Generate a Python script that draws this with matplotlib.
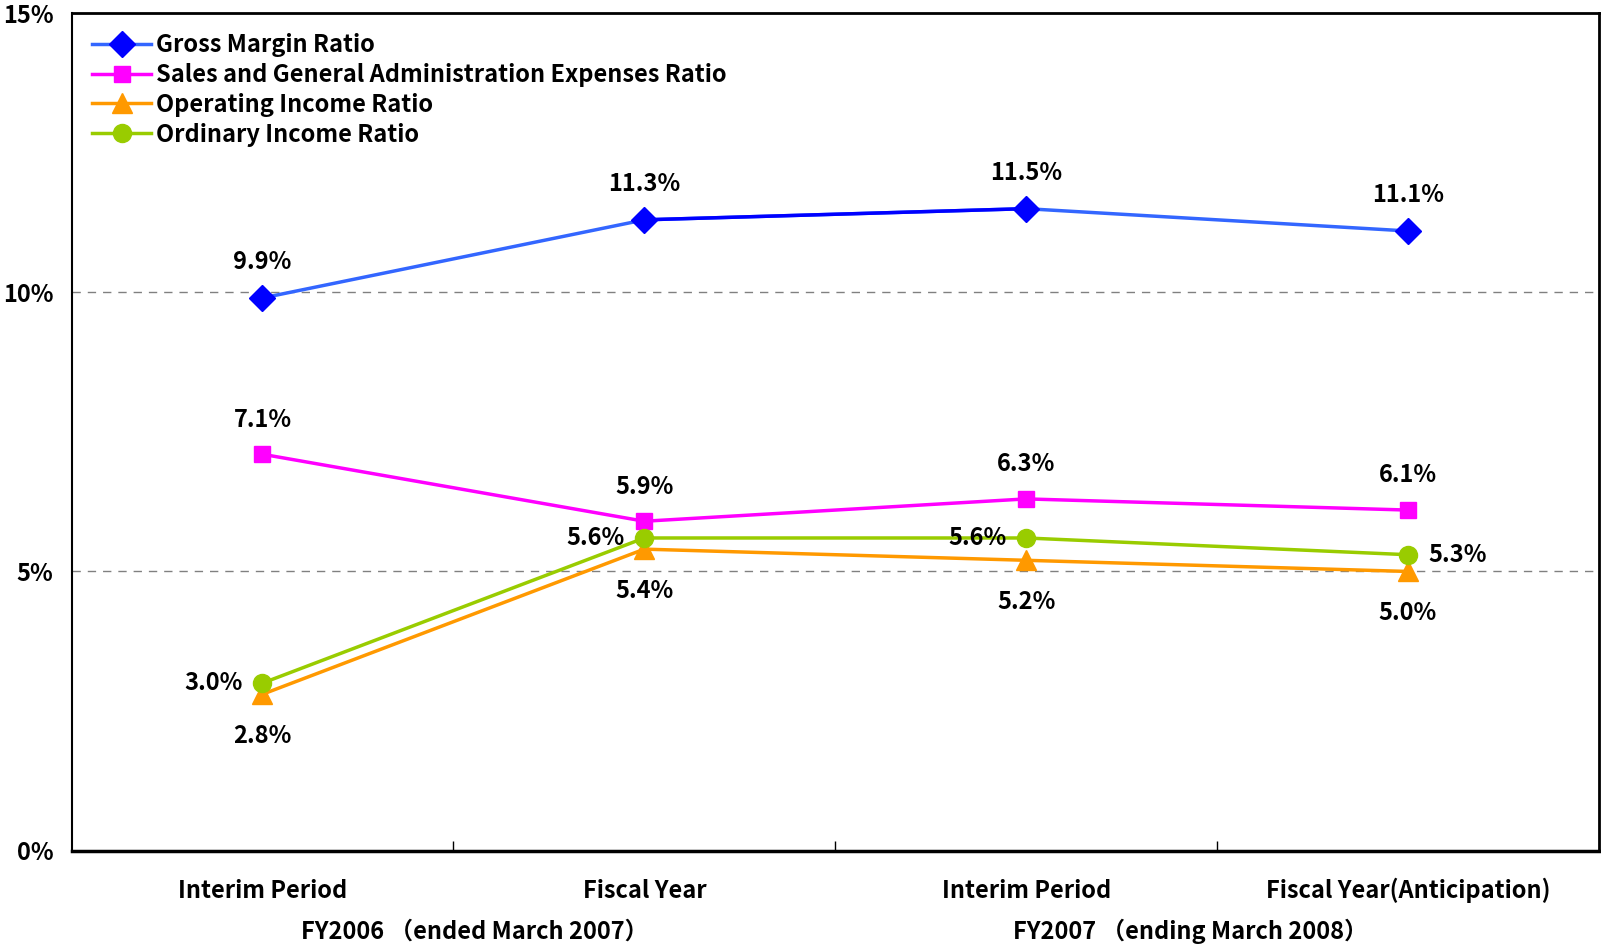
import matplotlib.pyplot as plt
import numpy as np

plt.rcParams['font.family'] = ['Noto Sans CJK JP', 'DejaVu Sans']
plt.rcParams['font.weight'] = 'bold'

categories = ["Interim Period", "Fiscal Year", "Interim Period", "Fiscal Year(Anticipation)"]
groups = ["FY2006 \uff08ended March 2007\uff09", "FY2007 \uff08ending March 2008\uff09"]

gross_margin = [9.9, 11.3, 11.5, 11.1]
sga_ratio = [7.1, 5.9, 6.3, 6.1]
operating_income = [2.8, 5.4, 5.2, 5.0]
ordinary_income = [3.0, 5.6, 5.6, 5.3]

series_names = [
    "Gross Margin Ratio",
    "Sales and General Administration Expenses Ratio",
    "Operating Income Ratio",
    "Ordinary Income Ratio",
]

x = np.arange(len(categories))

fig = plt.figure(figsize=(16.01, 9.44), dpi=100)
ax = fig.add_axes([0.0447, 0.099, 0.954, 0.8869])

fs = 17
lw = 2.5

# gross margin: middle segment is drawn darker
ax.plot(x, gross_margin, color="#3366FF", lw=lw, zorder=3)
ax.plot(x[1:3], gross_margin[1:3], color="#0000FF", lw=lw, zorder=3)
ax.plot(x, gross_margin, ls="none", marker="D", ms=13, color="#0000FF", zorder=4)
h1, = ax.plot([], [], color="#3366FF", lw=lw, marker="D", ms=13, mfc="#0000FF", mec="#0000FF")

h2, = ax.plot(x, sga_ratio, color="#FF00FF", lw=lw, marker="s", ms=12, zorder=3)
h3, = ax.plot(x, operating_income, color="#FF9900", lw=lw, marker="^", ms=14, zorder=3)
h4, = ax.plot(x, ordinary_income, color="#99CC00", lw=lw, marker="o", ms=13, zorder=3)

# data labels
for xi, v in zip(x, gross_margin):
    ax.annotate(f"{v:.1f}%", (xi, v), xytext=(0, 26), textcoords="offset points",
                ha="center", va="center", fontsize=fs)
for xi, v in zip(x, sga_ratio):
    ax.annotate(f"{v:.1f}%", (xi, v), xytext=(0, 25), textcoords="offset points",
                ha="center", va="center", fontsize=fs)
for xi, v in zip(x, operating_income):
    ax.annotate(f"{v:.1f}%", (xi, v), xytext=(0, -30), textcoords="offset points",
                ha="center", va="center", fontsize=fs)
for i, (xi, v) in enumerate(zip(x, ordinary_income)):
    if i == len(x) - 1:
        ax.annotate(f"{v:.1f}%", (xi, v), xytext=(15, 0), textcoords="offset points",
                    ha="left", va="center", fontsize=fs)
    else:
        ax.annotate(f"{v:.1f}%", (xi, v), xytext=(-14, 0), textcoords="offset points",
                    ha="right", va="center", fontsize=fs)

ax.set_xlim(-0.5, 3.5)
ax.set_ylim(0, 15)
ax.set_yticks([0, 5, 10, 15])
ax.set_yticklabels([f"{t}%" for t in [0, 5, 10, 15]], fontsize=fs)
ax.tick_params(axis="y", length=0, pad=13)
ax.set_xticks([0.5, 1.5, 2.5])
ax.set_xticklabels([])
ax.tick_params(axis="x", direction="in", length=7, width=1)

for yv in [5, 10]:
    ax.axhline(yv, color="#808080", lw=1, ls=(0, (6, 5)), zorder=1)

for side, w in [("top", 2), ("right", 2), ("bottom", 2.5), ("left", 1.5)]:
    ax.spines[side].set_linewidth(w)
    ax.spines[side].set_color("black")

# category and group labels under the axis
trans = ax.get_xaxis_transform()
for xi, c in zip(x, categories):
    ax.text(xi, -0.048, c, transform=trans, ha="center", va="center", fontsize=fs)
for gx, g in zip([0.555, 2.43], groups):
    ax.text(gx, -0.097, g, transform=trans, ha="center", va="center", fontsize=fs)

leg = ax.legend([h1, h2, h3, h4], series_names, loc="upper left",
                bbox_to_anchor=(0.009, 0.985), fontsize=fs, frameon=True,
                handlelength=2.5, handletextpad=0.2, labelspacing=0.25,
                borderpad=0.3, borderaxespad=0)
leg.get_frame().set_edgecolor("none")
leg.get_frame().set_facecolor("white")
leg.get_frame().set_alpha(1)
leg.set_zorder(5)

fig.savefig("out.png", dpi=100)
